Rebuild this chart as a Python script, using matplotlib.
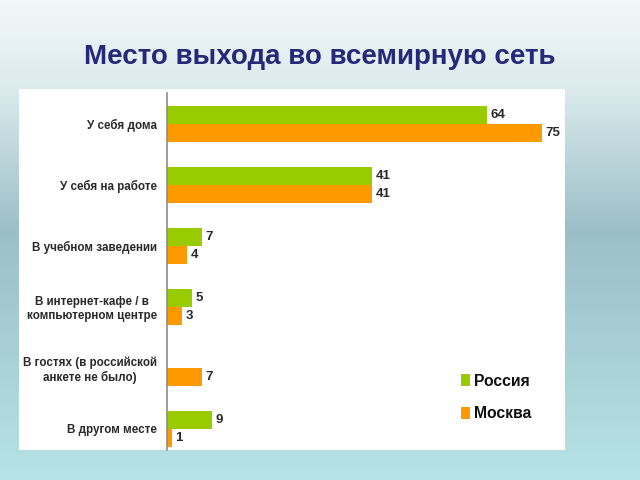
import numpy as np
import matplotlib
matplotlib.use("Agg")
import matplotlib.pyplot as plt
from matplotlib.patches import Rectangle, Patch
from matplotlib.colors import LinearSegmentedColormap

categories = [
    "У себя дома",
    "У себя на работе",
    "В учебном заведении",
    "В интернет-кафе / в\nкомпьютерном центре",
    "В гостях (в российской\nанкете не было)",
    "В другом месте",
]
russia = [64, 41, 7, 5, None, 9]
moscow = [75, 41, 4, 3, 7, 1]
series_names = ["Россия", "Москва"]
title = "Место выхода во всемирную сеть"

GREEN = "#99cc00"
ORANGE = "#ff9900"
TEXT = "#2a2a2a"

plt.rcParams['font.family'] = ['Liberation Sans Narrow', 'Liberation Sans', 'DejaVu Sans']

fig = plt.figure(figsize=(6.4, 4.8), dpi=100)

# background gradient
bg = fig.add_axes([0, 0, 1, 1], zorder=-10)
cmap = LinearSegmentedColormap.from_list("bg", [
    (0.0, (0.95, 0.97, 0.975)),
    (0.18, (0.86, 0.92, 0.93)),
    (0.48, (0.61, 0.75, 0.78)),
    (0.75, (0.66, 0.82, 0.84)),
    (1.0, (0.72, 0.89, 0.90)),
])
grad = np.linspace(0, 1, 256).reshape(-1, 1)
bg.imshow(grad, aspect="auto", cmap=cmap, extent=[0, 1, 0, 1], origin="upper")
bg.set_axis_off()

# white panel
W, H = 640, 480
px = lambda x: x / W
py = lambda y: 1 - y / H
fig.patches.append(Rectangle((px(19), py(450)), px(565) - px(19), py(89) - py(450),
                             transform=fig.transFigure, facecolor="white",
                             edgecolor="none", zorder=-5))

fig.text((px(80) + px(560)) / 2, py(57), title, ha="center", va="center",
         fontsize=20, fontweight="bold", color="#25297a", family=['Liberation Sans', 'DejaVu Sans'])

ax = fig.add_axes([px(167), py(450), px(565) - px(167), py(89) - py(450)])
ax.set_facecolor("none")

y = np.arange(len(categories))
h = 0.29
r_vals = [np.nan if v is None else v for v in russia]
ax.barh(y - h / 2, r_vals, height=h, color=GREEN, edgecolor="none")
ax.barh(y + h / 2, moscow, height=h, color=ORANGE, edgecolor="none")

num_font = dict(fontsize=9.5, fontweight="bold", color=TEXT, family=['Liberation Sans', 'DejaVu Sans'])
for yi, v in zip(y, russia):
    if v is not None:
        ax.annotate(str(v), (v, yi - h / 2), xytext=(2.5, 0), textcoords="offset points",
                    va="center", ha="left", **num_font)
for yi, v in zip(y, moscow):
    ax.annotate(str(v), (v, yi + h / 2), xytext=(2.5, 0), textcoords="offset points",
                va="center", ha="left", **num_font)

ax.set_xlim(0, 398 / 5.0)
ax.set_ylim(5 + 21 / 61, -35 / 61)
ax.set_yticks(y)
ax.set_yticklabels(categories, fontsize=8.4, fontweight="bold", color=TEXT,
                   multialignment="center")
ax.tick_params(axis="y", length=0, pad=7)
ax.set_xticks([])
for s in ["top", "right", "bottom"]:
    ax.spines[s].set_visible(False)
ax.spines["left"].set_color("#8c8c8c")
ax.spines["left"].set_linewidth(1.2)
ax.spines["left"].set_bounds(5 + 21 / 61, -31 / 61)

handles = [Patch(facecolor=GREEN, edgecolor="none"), Patch(facecolor=ORANGE, edgecolor="none")]
fig.legend(handles, series_names, loc="center left", bbox_to_anchor=(px(461), py(397.5)),
           frameon=False, handlelength=0.6, handleheight=0.8, handletextpad=0.25,
           labelspacing=1.1, borderpad=0, borderaxespad=0,
           prop={"size": 11.3, "weight": "bold", "family": ['Liberation Sans', 'DejaVu Sans']},
           labelcolor="#111111")

fig.savefig("out.png", dpi=100)
